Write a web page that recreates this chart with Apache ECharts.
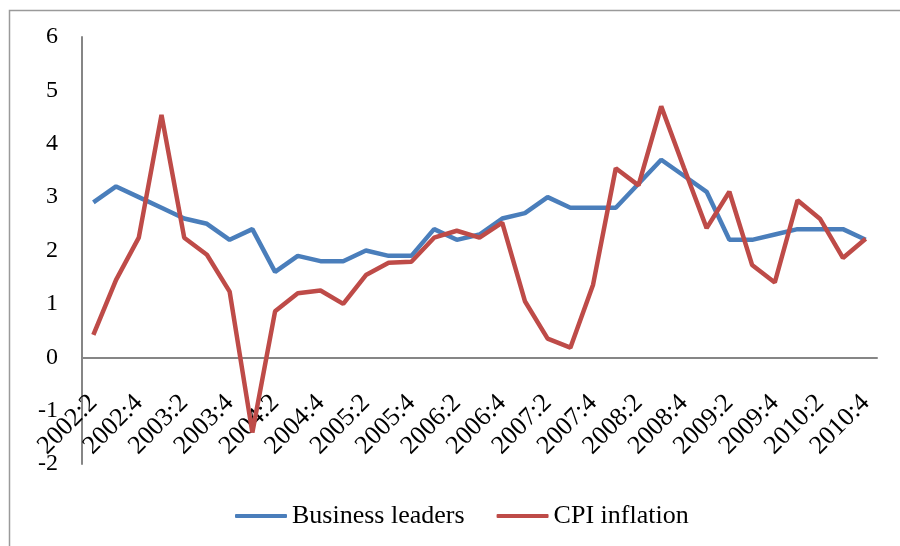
<!DOCTYPE html>
<html>
<head>
<meta charset="utf-8">
<script src="https://cdn.jsdelivr.net/npm/echarts@6/dist/echarts.min.js"></script>
<style>
  html, body { margin: 0; padding: 0; background: #fff; }
  #chart { width: 900px; height: 546px; }
</style>
</head>
<body>
<div id="chart"></div>
<script>
// quarters 2002:2 .. 2010:4
var quarters = [
    "2002:2", "2002:3", "2002:4", "2003:1", "2003:2", "2003:3", "2003:4",
    "2004:1", "2004:2", "2004:3", "2004:4", "2005:1", "2005:2", "2005:3", "2005:4",
    "2006:1", "2006:2", "2006:3", "2006:4", "2007:1", "2007:2", "2007:3", "2007:4",
    "2008:1", "2008:2", "2008:3", "2008:4", "2009:1", "2009:2", "2009:3", "2009:4",
    "2010:1", "2010:2", "2010:3", "2010:4"
];
var businessLeaders = [
    2.9, 3.2, 3.0, 2.8, 2.6, 2.5, 2.2,
    2.4, 1.6, 1.9, 1.8, 1.8, 2.0, 1.9, 1.9,
    2.4, 2.2, 2.3, 2.6, 2.7, 3.0, 2.8, 2.8,
    2.8, 3.25, 3.7, 3.4, 3.1, 2.2, 2.2, 2.3,
    2.4, 2.4, 2.4, 2.2
];
var cpiInflation = [
    0.42, 1.45, 2.24, 4.54, 2.24, 1.92, 1.23,
    -1.41, 0.86, 1.2, 1.25, 1.0, 1.54, 1.77, 1.79,
    2.24, 2.37, 2.24, 2.52, 1.05, 0.35, 0.18, 1.36,
    3.54, 3.22, 4.7, 3.55, 2.42, 3.1, 1.73, 1.4,
    2.94, 2.59, 1.86, 2.22
];
var yTicks = { min: -2, max: 6, interval: 1 };

var font = '"Liberation Serif", "DejaVu Serif", serif';

var myChart = echarts.init(document.getElementById("chart"));

var options = {
    backgroundColor: "#fff",
    animation: false,
    graphic: [{
        type: "rect",
        shape: { x: 9.5, y: 10.5, width: 1000, height: 1000 },
        style: { fill: "none", stroke: "#9a9a9a", lineWidth: 1.5 },
        silent: true
    }],
    grid: { left: 82, right: 23, top: 37, bottom: 82 },
    legend: {
        bottom: 12,
        left: 230,
        itemWidth: 52,
        itemHeight: 4,
        itemGap: 32,
        icon: "roundRect",
        textStyle: { fontFamily: font, fontSize: 26, color: "#000" },
        data: ["Business leaders", "CPI inflation"]
    },
    xAxis: {
        type: "category",
        data: quarters,
        boundaryGap: true,
        axisLine: { onZero: true, lineStyle: { color: "#868686", width: 2 } },
        axisTick: { show: false },
        // labels sit just under the zero line, as in the original
        axisLabel: {
            interval: 1,
            rotate: 45,
            margin: -65,
            fontFamily: font,
            fontSize: 26,
            color: "#000"
        },
        splitLine: { show: false }
    },
    yAxis: {
        type: "value",
        min: yTicks.min,
        max: yTicks.max,
        interval: yTicks.interval,
        axisLine: { show: true, lineStyle: { color: "#868686", width: 2 } },
        axisTick: { show: false },
        axisLabel: { margin: 24, fontFamily: font, fontSize: 24, color: "#000" },
        splitLine: { show: false }
    },
    series: [{
        name: "Business leaders",
        type: "line",
        data: businessLeaders,
        symbol: "none",
        color: "#4a7ebb",
        lineStyle: { width: 4.5, color: "#4a7ebb" },
        z: 2
    }, {
        name: "CPI inflation",
        type: "line",
        data: cpiInflation,
        symbol: "none",
        color: "#be4b48",
        lineStyle: { width: 4.5, color: "#be4b48" },
        z: 3
    }]
};

myChart.setOption(options, true);
</script>
</body>
</html>
